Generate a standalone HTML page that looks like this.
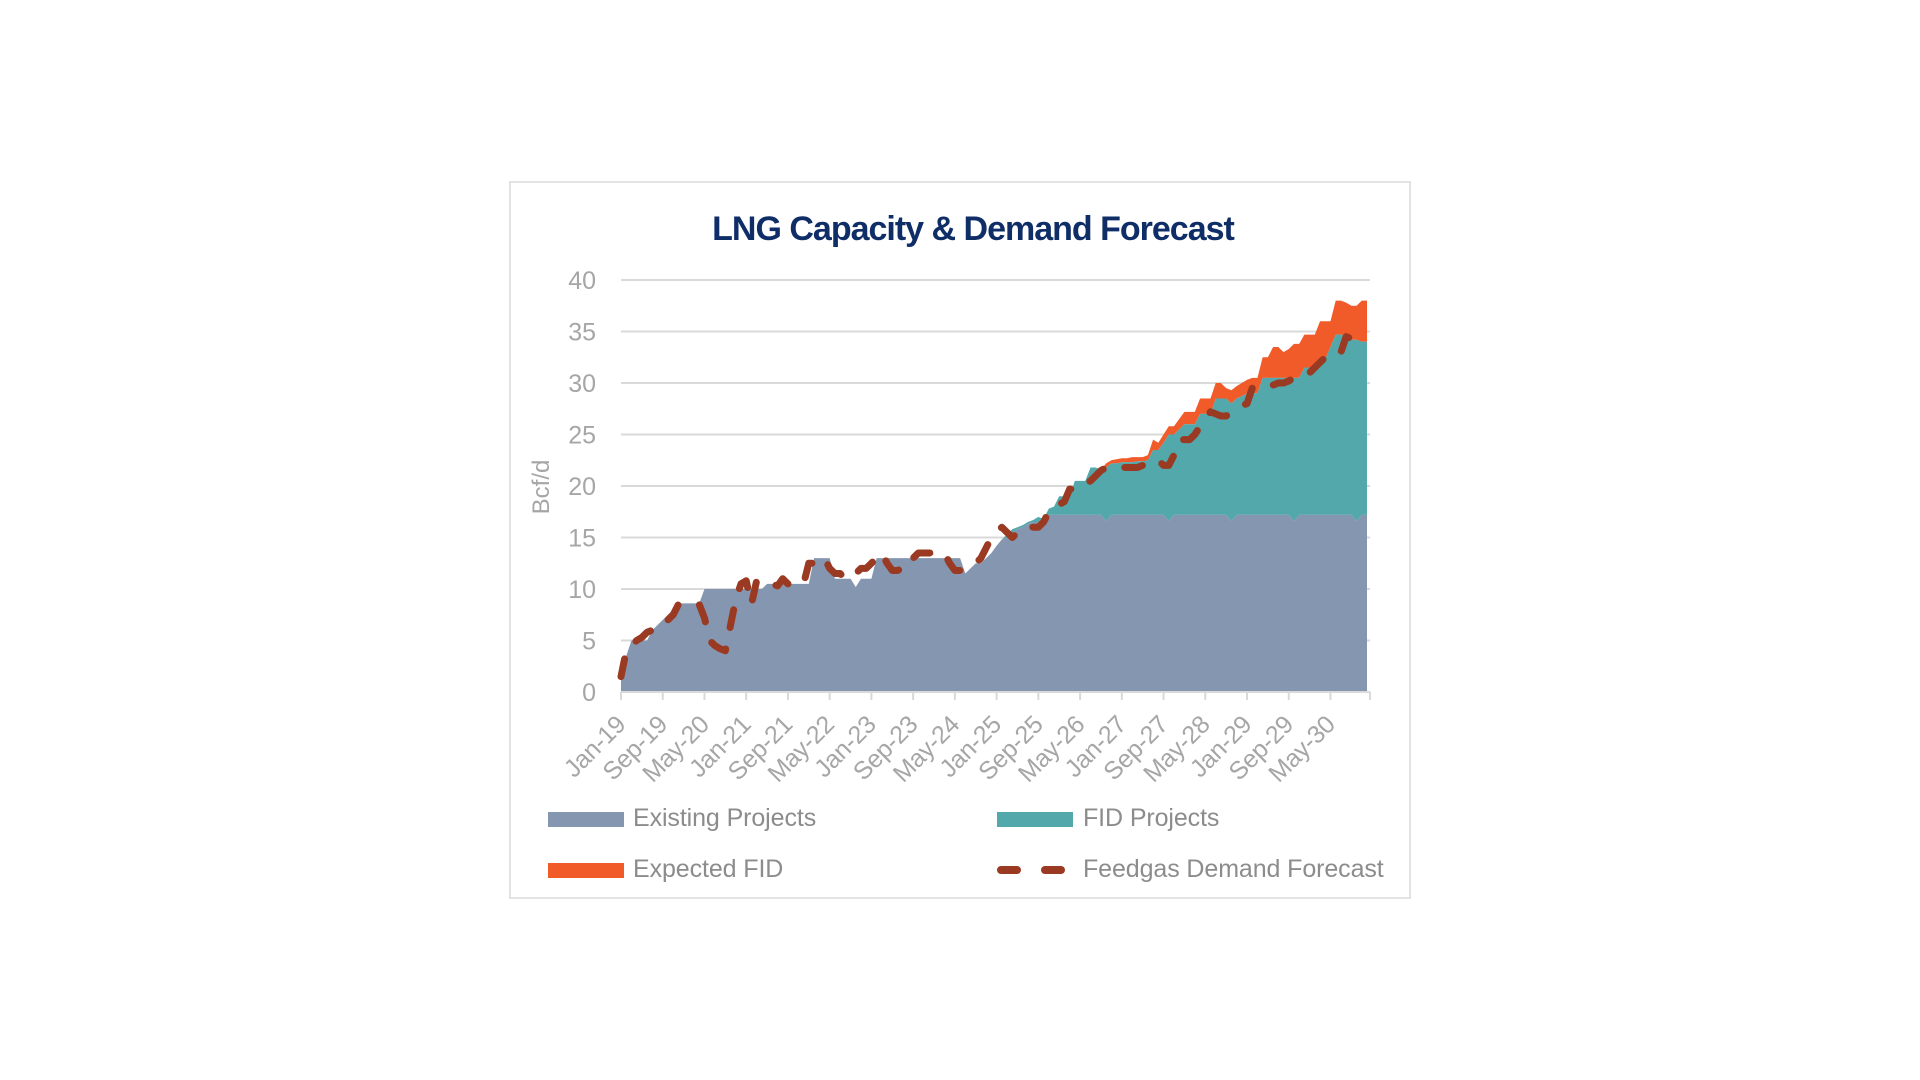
<!DOCTYPE html>
<html><head><meta charset="utf-8"><style>
html,body{margin:0;padding:0;background:#fff;width:1920px;height:1080px;overflow:hidden;font-family:"Liberation Sans",sans-serif}
#box{position:absolute;left:509px;top:181px;width:902px;height:718px;border:2px solid #e3e3e3;box-sizing:border-box}
#title{position:absolute;left:522px;width:902px;top:210px;text-align:center;font-size:34px;font-weight:bold;color:#0f2d66;letter-spacing:-1px}
.lg{position:absolute;font-size:25px;color:#8c8c8c;letter-spacing:-0.1px;line-height:30px}
.sw{position:absolute;height:15px;width:76px}
</style></head><body>
<div id="box"></div>
<div id="title">LNG Capacity &amp; Demand Forecast</div>
<svg id="chart" width="1920" height="1080" style="position:absolute;left:0;top:0"></svg>
<div class="sw" style="left:548px;top:812px;background:#8496b0"></div>
<div class="lg" style="left:633px;top:803px">Existing Projects</div>
<div class="sw" style="left:997px;top:812px;background:#52a8aa"></div>
<div class="lg" style="left:1083px;top:803px">FID Projects</div>
<div class="sw" style="left:548px;top:863px;background:#f15a29"></div>
<div class="lg" style="left:633px;top:854px">Expected FID</div>
<svg style="position:absolute;left:995px;top:862px" width="80" height="16"><line x1="6" y1="8" x2="74" y2="8" stroke="#9b3a22" stroke-width="8" stroke-linecap="round" stroke-dasharray="16 28"/></svg>
<div class="lg" style="left:1083px;top:854px">Feedgas Demand Forecast</div>
<script>
const tickLabels=["Jan-19","Sep-19","May-20","Jan-21","Sep-21","May-22","Jan-23","Sep-23","May-24","Jan-25","Sep-25","May-26","Jan-27","Sep-27","May-28","Jan-29","Sep-29","May-30"];
const yTicks=[0,5,10,15,20,25,30,35,40];
const existing=[1.5,3.5,5,5,5,5,6,6.5,7,7.5,8,8.6,
8.6,8.6,8.6,8.6,10,10,10,10,10,10,10,10,
10,10,10,10,10.5,10.5,10.5,10.5,10.5,10.5,10.5,10.5,
10.5,13,13,13,13,11,11,11,11,10.2,11,11,
11,13,13,13,13,13,13,13,13,13,13,13,
13,13,13,13,13,13,11.5,12,12.5,12.5,13,13.5,
14.2,14.8,15,15.5,15.8,16,16.3,16.5,16.5,17,17.2,17.2,
17.2,17.2,17.2,17.2,17.2,17.2,17.2,17.2,17.2,16.6,17.2,17.2,
17.2,17.2,17.2,17.2,17.2,17.2,17.2,17.2,17.2,16.6,17.2,17.2,
17.2,17.2,17.2,17.2,17.2,17.2,17.2,17.2,17.2,16.6,17.2,17.2,
17.2,17.2,17.2,17.2,17.2,17.2,17.2,17.2,17.2,16.6,17.2,17.2,
17.2,17.2,17.2,17.2,17.2,17.2,17.2,17.2,17.2,16.6,17.2,17.2];
const fidTotal=[1.5,3.5,5,5,5,5,6,6.5,7,7.5,8,8.6,
8.6,8.6,8.6,8.6,10,10,10,10,10,10,10,10,
10,10,10,10,10.5,10.5,10.5,10.5,10.5,10.5,10.5,10.5,
10.5,13,13,13,13,11,11,11,11,10.2,11,11,
11,13,13,13,13,13,13,13,13,13,13,13,
13,13,13,13,13,13,11.5,12,12.5,12.5,13,13.5,
14.2,14.8,15.3,15.8,16,16.2,16.5,16.7,17,16.8,17.8,18,
19,19,19,20.5,20.5,20.5,21.8,21.8,21.5,21.8,22.2,22.2,
22.3,22.3,22.3,22.4,22.4,22.5,23.5,23.5,24.2,25,25,25.5,
26,26,26,27,27,27,28.5,28.5,28.5,28,28.5,28.7,
29,29,29,30.5,30.5,30.5,30.5,30.5,30.5,30.5,30.5,31.5,
31.5,31.5,32.3,32.3,33.5,34.7,34.7,34.5,34.2,34.2,34,34];
const expectedTotal=[1.5,3.5,5,5,5,5,6,6.5,7,7.5,8,8.6,
8.6,8.6,8.6,8.6,10,10,10,10,10,10,10,10,
10,10,10,10,10.5,10.5,10.5,10.5,10.5,10.5,10.5,10.5,
10.5,13,13,13,13,11,11,11,11,10.2,11,11,
11,13,13,13,13,13,13,13,13,13,13,13,
13,13,13,13,13,13,11.5,12,12.5,12.5,13,13.5,
14.2,14.8,15.3,15.8,16,16.2,16.5,16.7,17,16.8,17.8,18,
19,19,19,20.5,20.5,20.5,21.8,21.8,21.6,22.2,22.5,22.6,
22.7,22.7,22.8,22.8,22.8,23,24.5,24.2,25,25.8,25.8,26.5,
27.2,27.2,27.2,28.5,28.5,28.5,30,30,29.5,29.3,29.7,30,
30.3,30.5,30.5,32.5,32.5,33.5,33.5,33,33.3,33.8,33.8,34.7,
34.7,34.7,36,36,36,38,38,37.8,37.5,37.5,38,38];
const demand=[1.5,4,4.5,5,5.3,5.8,6,6,6.5,7,7.5,8.5,
8.5,8.5,8.5,8.5,7.2,5,4.5,4.2,4,6.5,9,10.5,
10.8,8.5,10.8,10.5,10.5,10.5,10.3,11,10.5,10.5,10.5,10.5,
12.5,12.5,12.5,13,12,11.5,11.5,11,11,11.5,12,12,
12.5,13,13.5,12.5,11.8,11.8,12,12,13,13.5,13.5,13.5,
13.5,13.5,13.5,12.5,11.8,11.8,12,12.2,12.5,13,14,15,
15.5,16,15.5,15,15.5,16,16,16,16,16.5,17.5,18,
18.2,18.5,19.7,19.7,19.7,20.2,20.5,21,21.5,21.8,21.8,21.8,
21.8,21.8,21.8,21.8,22,22,22.3,22.5,22,22,23,24.5,
24.5,24.5,25,25.8,26.5,27.2,27,26.8,26.8,27.2,27.5,27.8,
28,29.5,29.8,29.8,29.8,29.8,30,30,30.2,30.5,30.8,31,
31,31.5,32,32.5,32.5,33,33,34.5,34.3,34,34,34.2];

const NS="http://www.w3.org/2000/svg";
const svg=document.getElementById('chart');
const X0=621,X1=1367,Y0=692,Y40=280;
const n=demand.length;
function xs(i){return X0+i*(X1-X0)/(n-1);}
function ys(v){return Y0-(v/40)*(Y0-Y40);}
function mk(t,a){const e=document.createElementNS(NS,t);for(const k in a)e.setAttribute(k,a[k]);svg.appendChild(e);return e;}

yTicks.forEach(v=>{
  if(v>0){const g=mk('line',{x1:X0,x2:1370,y1:ys(v),y2:ys(v),stroke:'#d9d9d9','stroke-width':2});
  
  }
  const t=mk('text',{x:596,y:ys(v)+9,'text-anchor':'end','font-size':25,fill:'#a6a6a6','font-family':'Liberation Sans, sans-serif'});
  t.textContent=v;
  
  
});
function area(top,bot,color,name){
  let d='M'+xs(0)+','+ys(top[0]);
  for(let i=1;i<n;i++)d+=' L'+xs(i)+','+ys(top[i]);
  for(let i=n-1;i>=0;i--)d+=' L'+xs(i)+','+(bot?ys(bot[i]):Y0);
  const p=mk('path',{d:d+'Z',fill:color});
  
  
}
area(expectedTotal,fidTotal,'#f15a29','area-expected-fid');
area(fidTotal,existing,'#52a8aa','area-fid-projects');
area(existing,null,'#8496b0','area-existing-projects');
let pts=[];for(let i=0;i<n;i++)pts.push(xs(i)+','+ys(demand[i]));
const dl=mk('polyline',{points:pts.join(' '),fill:'none',stroke:'#9b3a22','stroke-width':7,'stroke-linecap':'round','stroke-linejoin':'round','stroke-dasharray':'18 22'});


const ax=mk('line',{x1:X0,x2:1370,y1:Y0,y2:Y0,stroke:'#d9d9d9','stroke-width':2});


for(let k=0;k<=tickLabels.length;k++){
  const x=k<tickLabels.length?xs(k*8):1370;
  const tk=mk('line',{x1:x,x2:x,y1:Y0,y2:Y0+8,stroke:'#d9d9d9','stroke-width':2});
  
  
  if(k<tickLabels.length){
    const ty=Y0+34;
    const t=mk('text',{x:x+6,y:ty,'text-anchor':'end','font-size':25,fill:'#a6a6a6','letter-spacing':'-0.3','font-family':'Liberation Sans, sans-serif',transform:'rotate(-45 '+(x+6)+' '+ty+')'});
    t.textContent=tickLabels[k];
    
    
  }
}
const yt=mk('text',{x:0,y:0,'text-anchor':'middle','font-size':24,fill:'#a6a6a6','font-family':'Liberation Sans, sans-serif',transform:'translate(549 487) rotate(-90)'});
yt.textContent='Bcf/d';


</script>
</body></html>
